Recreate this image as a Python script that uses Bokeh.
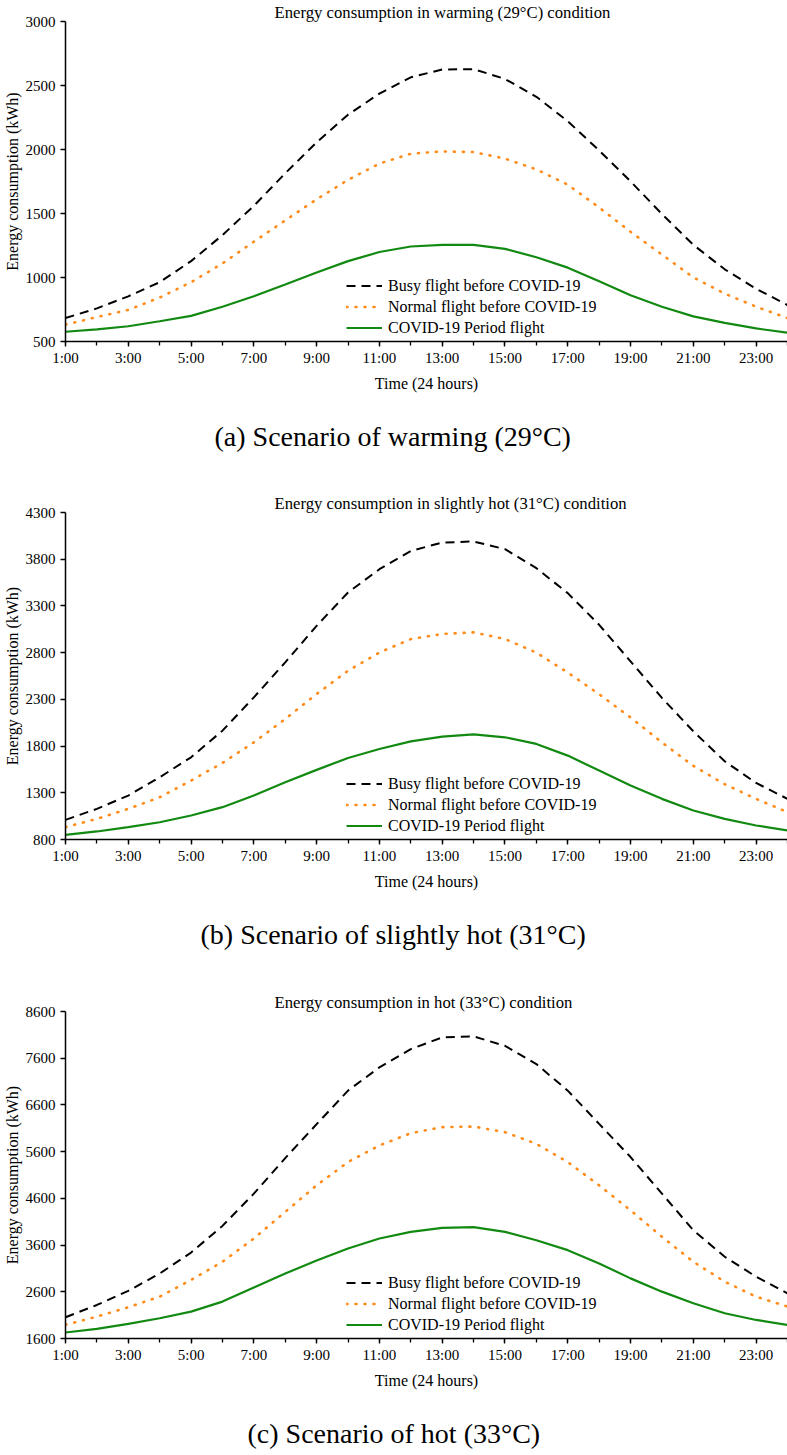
from bokeh.plotting import figure
from bokeh.models import FixedTicker, Legend, LegendItem, Title
from bokeh.layouts import column
from bokeh.embed import file_html
from bokeh.resources import INLINE

FONT = "Liberation Serif"

hours = list(range(1, 25))
major_hours = list(range(1, 24, 2))
tick_labels = ["1:00", "3:00", "5:00", "7:00", "9:00", "11:00", "13:00",
               "15:00", "17:00", "19:00", "21:00", "23:00"]

series_names = ["Busy flight before COVID-19", "Normal flight before COVID-19",
                "COVID-19 Period flight"]

# (a) warming 29C
busy_a = [683, 759, 853, 963, 1128, 1331, 1560, 1814, 2056, 2272, 2437, 2564,
          2625, 2628, 2551, 2412, 2221, 1992, 1751, 1496, 1255, 1064, 912, 785]
normal_a = [632, 691, 747, 843, 963, 1110, 1280, 1446, 1611, 1763, 1890, 1967,
            1985, 1980, 1929, 1845, 1725, 1547, 1357, 1179, 1001, 874, 772, 683]
covid_a = [576, 594, 619, 658, 700, 772, 853, 945, 1039, 1128, 1199, 1242,
           1255, 1255, 1224, 1158, 1077, 970, 861, 772, 696, 646, 602, 569]
yticks_a = [500, 1000, 1500, 2000, 2500, 3000]

# (b) slightly hot 31C
busy_b = [1010, 1128, 1270, 1466, 1680, 1965, 2321, 2696, 3087, 3444, 3693, 3889,
          3978, 3990, 3908, 3704, 3437, 3098, 2707, 2315, 1958, 1637, 1405, 1235]
normal_b = [932, 1021, 1128, 1252, 1431, 1620, 1840, 2090, 2357, 2606, 2802, 2945,
            3000, 3017, 2946, 2800, 2587, 2355, 2106, 1839, 1588, 1392, 1235, 1093]
covid_b = [850, 886, 932, 985, 1057, 1146, 1270, 1413, 1545, 1673, 1769, 1851,
           1901, 1925, 1894, 1823, 1698, 1538, 1378, 1235, 1110, 1021, 950, 897]
yticks_b = [800, 1300, 1800, 2300, 2800, 3300, 3800, 4300]

# (c) hot 33C
busy_c = [2055, 2318, 2620, 2990, 3440, 4010, 4701, 5462, 6188, 6906, 7404, 7795,
          8044, 8066, 7866, 7475, 6905, 6194, 5484, 4701, 3918, 3350, 2923, 2567]
normal_c = [1892, 2069, 2269, 2496, 2852, 3243, 3741, 4310, 4879, 5377, 5733, 5996,
            6124, 6137, 6017, 5768, 5377, 4878, 4344, 3777, 3243, 2816, 2496, 2283]
covid_c = [1728, 1806, 1913, 2034, 2176, 2390, 2690, 2990, 3270, 3528, 3741, 3883,
           3970, 3985, 3883, 3704, 3491, 3207, 2887, 2603, 2353, 2140, 1997, 1890]
yticks_c = [1600, 2600, 3600, 4600, 5600, 6600, 7600, 8600]


def make_panel(title, caption, busy, normal, covid, yticks, frame_h, bottom, cap_offset):
    p = figure(frame_width=722, frame_height=frame_h, x_range=(1, 24),
               y_range=(yticks[0], yticks[-1]), output_backend="svg",
               toolbar_location=None, min_border_left=62, min_border_right=0,
               min_border_top=0, min_border_bottom=bottom)
    p.outline_line_color = None
    p.grid.visible = False

    p.title = Title(text=title, align="left", offset=209, standoff=0,
                    text_font=FONT, text_font_size="16.7px",
                    text_font_style="normal", text_color="black")

    r1 = p.line(hours, busy, line_color="black", line_width=2, line_dash="9 6")
    r2 = p.line(hours, normal, line_color="#ff8c1a", line_width=2.6,
                line_dash="1 8", line_cap="round")
    r3 = p.line(hours, covid, line_color="#128a12", line_width=2.2)

    legend = Legend(items=[LegendItem(label=series_names[0], renderers=[r1]),
                           LegendItem(label=series_names[1], renderers=[r2]),
                           LegendItem(label=series_names[2], renderers=[r3])],
                    location=(281, 3), border_line_color=None,
                    background_fill_alpha=0, padding=0, margin=0, spacing=0,
                    glyph_width=36, glyph_height=21, label_height=21,
                    label_standoff=6, label_text_font=FONT,
                    label_text_font_size="16px", label_text_color="black")
    p.add_layout(legend, "center")

    for ax in (p.xaxis, p.yaxis):
        ax.axis_line_width = 1.5
        ax.axis_line_color = "black"
        ax.major_tick_in = 0
        ax.major_tick_out = 5
        ax.major_tick_line_width = 1.3
        ax.major_tick_line_color = "black"
        ax.minor_tick_in = 0
        ax.minor_tick_out = 4
        ax.minor_tick_line_width = 1.3
        ax.minor_tick_line_color = "black"
        ax.major_label_text_font = FONT
        ax.major_label_text_font_size = "15px"
        ax.major_label_text_color = "black"
        ax.axis_label_text_font = FONT
        ax.axis_label_text_font_size = "16px"
        ax.axis_label_text_font_style = "normal"
        ax.axis_label_text_color = "black"

    p.xaxis.ticker = FixedTicker(ticks=major_hours, minor_ticks=hours)
    p.xaxis.major_label_overrides = dict(zip(major_hours, tick_labels))
    p.xaxis.axis_label = "Time (24 hours)"
    p.xaxis.major_label_standoff = 3
    p.xaxis.axis_label_standoff = 6

    p.yaxis.ticker = FixedTicker(ticks=yticks, minor_ticks=[])
    p.yaxis.axis_label = "Energy consumption (kWh)"
    p.yaxis.major_label_standoff = 5
    p.yaxis.axis_label_standoff = 2

    p.add_layout(Title(text=caption, align="left", offset=cap_offset, standoff=49,
                       text_font=FONT, text_font_size="28px",
                       text_font_style="normal", text_color="black"), "below")
    return p


pa = make_panel("Energy consumption in warming (29\u00b0C) condition",
                "(a) Scenario of warming (29\u00b0C)",
                busy_a, normal_a, covid_a, yticks_a, 320, 150, 149)
pb = make_panel("Energy consumption in slightly hot (31\u00b0C) condition",
                "(b) Scenario of slightly hot (31\u00b0C)",
                busy_b, normal_b, covid_b, yticks_b, 327, 151, 135)
pc = make_panel("Energy consumption in hot (33\u00b0C) condition",
                "(c) Scenario of hot (33\u00b0C)",
                busy_c, normal_c, covid_c, yticks_c, 327, 112, 182)

layout = column(pa, pb, pc, spacing=0)
open("out.html", "w").write(file_html(layout, INLINE))
